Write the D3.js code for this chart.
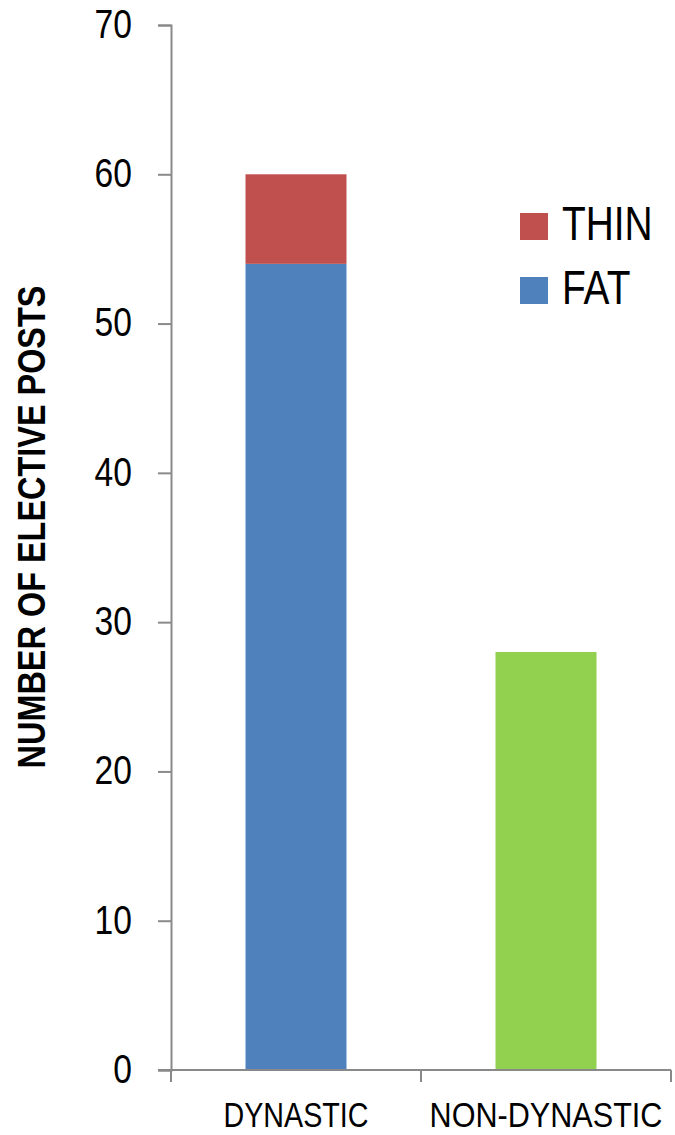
<!DOCTYPE html>
<html><head><meta charset="utf-8">
<script src="https://cdn.jsdelivr.net/npm/d3@7"></script>
<style>body{margin:0;background:#fff}svg{display:block}text{font-family:"Liberation Sans",Arial,sans-serif}</style>
</head><body>
<svg id="c" width="675" height="1135"></svg>
<script>
const categories = ["DYNASTIC", "NON-DYNASTIC"];
const fatValues = [54, 0];
const thinValues = [6, 0];
const nonDynValues = [0, 28];
const yTicks = [0, 10, 20, 30, 40, 50, 60, 70];
const legendItems = ["THIN", "FAT"];
const colors = {THIN: "#C0504D", FAT: "#4F81BD", NON: "#92D050"};

const NARROW = 0.82;
const svg = d3.select("#c");
const mLeft = 171, mRight = 671, mTop = 25, mBottom = 1070;
const x = d3.scaleBand().domain(categories).range([mLeft, mRight]).paddingInner(0.596).paddingOuter(0.298);
const y = d3.scaleLinear().domain([0, 70]).range([mBottom, mTop]);

const axisColor = "#898989";
// y axis
const ya = svg.append("g").attr("transform", `translate(${mLeft},0)`)
  .call(d3.axisLeft(y).tickValues(yTicks).tickSize(13).tickPadding(25));
ya.select(".domain").attr("stroke", axisColor).attr("stroke-width", 2);
ya.selectAll(".tick line").attr("stroke", axisColor).attr("stroke-width", 2);
ya.selectAll(".tick text").attr("font-size", 41).attr("fill", "#000")
  .attr("font-family", '"Liberation Sans",Arial,sans-serif')
  .attr("x", -39 / NARROW).attr("dy", "0.3em").attr("transform", `scale(${NARROW},1)`);

// bars
const data = categories.map((c, i) => ({c, fat: fatValues[i], thin: thinValues[i], non: nonDynValues[i]}));
const g = svg.append("g");
data.forEach(d => {
  if (d.fat > 0) g.append("rect").attr("x", x(d.c)).attr("width", x.bandwidth())
    .attr("y", y(d.fat)).attr("height", y(0) - y(d.fat)).attr("fill", colors.FAT);
  if (d.thin > 0) g.append("rect").attr("x", x(d.c)).attr("width", x.bandwidth())
    .attr("y", y(d.fat + d.thin)).attr("height", y(d.fat) - y(d.fat + d.thin)).attr("fill", colors.THIN);
  if (d.non > 0) g.append("rect").attr("x", x(d.c)).attr("width", x.bandwidth())
    .attr("y", y(d.non)).attr("height", y(0) - y(d.non)).attr("fill", colors.NON);
});

// x axis
const xa = svg.append("g").attr("transform", `translate(0,${mBottom})`);
xa.append("line").attr("x1", mLeft - 13).attr("x2", mRight).attr("stroke", axisColor).attr("stroke-width", 2);
const step = (mRight - mLeft) / categories.length;
d3.range(categories.length + 1).forEach(i => {
  xa.append("line").attr("x1", mLeft + i * step).attr("x2", mLeft + i * step)
    .attr("y1", 0).attr("y2", 12).attr("stroke", axisColor).attr("stroke-width", 2);
});
const labelFit = {"DYNASTIC": 145, "NON-DYNASTIC": 233};
categories.forEach(c => {
  const t = xa.append("text").attr("text-anchor", "middle").attr("font-size", 35).attr("fill", "#000").text(c);
  const sx = labelFit[c] / t.node().getComputedTextLength();
  t.attr("transform", `translate(${x(c) + x.bandwidth() / 2},56.5) scale(${sx},1)`);
});

// y title
const title = svg.append("text").attr("text-anchor", "middle").attr("font-size", 39)
  .attr("font-weight", "bold").attr("fill", "#000").text("NUMBER OF ELECTIVE POSTS");
const tsx = 483 / title.node().getComputedTextLength();
title.attr("transform", `translate(45,527) rotate(-90) scale(${tsx},1)`);

// legend
const lg = svg.append("g");
legendItems.forEach((k, i) => {
  const yy = 213 + i * 64;
  lg.append("rect").attr("x", 520).attr("y", yy).attr("width", 28).attr("height", 27).attr("fill", colors[k]);
  lg.append("text").attr("transform", `translate(562,${yy + 27}) scale(0.81,1)`)
    .attr("font-size", 48).attr("fill", "#000").text(k);
});
</script>
</body></html>
